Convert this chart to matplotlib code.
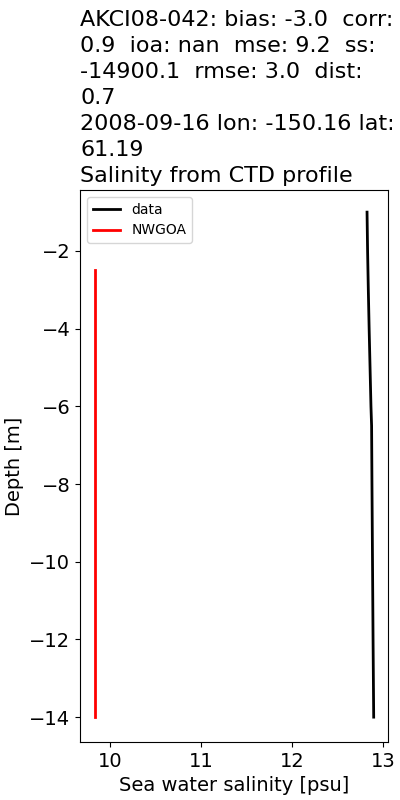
import matplotlib
matplotlib.use("Agg")
import matplotlib.pyplot as plt
import numpy as np

# CTD profile (data) and model (NWGOA)
data_depth = [-1.0, -2.0, -3.0, -4.0, -5.0, -6.0, -6.5, -8.0, -10.0, -12.0, -14.0]
data_sal = [12.820, 12.826, 12.834, 12.843, 12.853, 12.863, 12.870, 12.874, 12.880, 12.886, 12.893]
model_depth = [-2.5, -5.0, -8.0, -11.0, -14.0]
model_sal = [9.83, 9.83, 9.83, 9.83, 9.83]

title = ("AKCI08-042: bias: -3.0  corr:\n0.9  ioa: nan  mse: 9.2  ss:\n"
         "-14900.1  rmse: 3.0  dist:\n0.7\n2008-09-16 lon: -150.16 lat:\n"
         "61.19\nSalinity from CTD profile")

fig, ax = plt.subplots(figsize=(4, 8), dpi=100)
fig.subplots_adjust(left=0.2, right=0.97, top=0.7625, bottom=0.0725)

ax.plot(data_sal, data_depth, color="black", lw=2, label="data")
ax.plot(model_sal, model_depth, color="red", lw=2, label="NWGOA")

ax.set_xlim(9.67, 13.05)
ax.set_ylim(-14.64, -0.43)
ax.set_xticks([10, 11, 12, 13])
ax.set_yticks([-14, -12, -10, -8, -6, -4, -2])
ax.tick_params(labelsize=14)
ax.set_xlabel("Sea water salinity [psu]", fontsize=14)
ax.set_ylabel("Depth [m]", fontsize=14)
ax.set_title(title, loc="left", fontsize=16, ha="left", linespacing=1.37)
ax.legend(loc="upper left", fontsize=10)

fig.savefig("out.png", dpi=100)
